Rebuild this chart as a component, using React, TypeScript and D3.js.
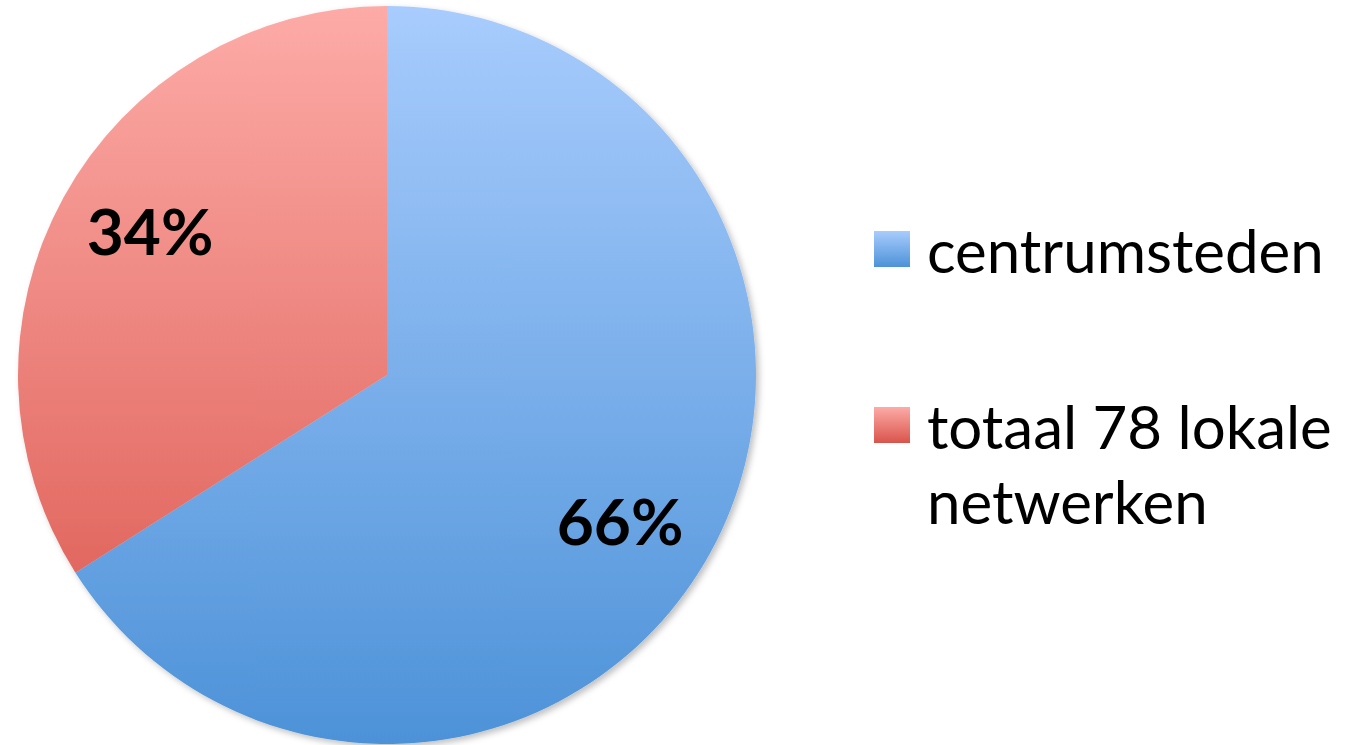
import { useEffect, useRef } from 'react'
import * as d3 from 'd3'

const categories = ['centrumsteden', 'totaal 78 lokale netwerken']
const legendLines = [['centrumsteden'], ['totaal 78 lokale', 'netwerken']]
const values = [66, 34]
const labels = ['66%', '34%']
const gradients = [
    ['#a8ccfd', '#4d92d8'],
    ['#fdaba7', '#d9544b'],
]

export default function App() {
    const svgRef = useRef<SVGSVGElement>(null)

    useEffect(() => {
        if (!svgRef.current) return
        const width = 1345
        const height = 745
        const cx = 387
        const cy = 375
        const r = 369

        const svg = d3.select(svgRef.current)
        svg.attr('width', width).attr('height', height)
        svg.selectAll('*').remove()

        const defs = svg.append('defs')
        gradients.forEach((g, i) => {
            // pie gradients run over the whole pie height (group coords)
            const lg = defs.append('linearGradient')
                .attr('id', `grad${i}`)
                .attr('gradientUnits', 'userSpaceOnUse')
                .attr('x1', 0).attr('y1', -r)
                .attr('x2', 0).attr('y2', r)
            lg.append('stop').attr('offset', '0%').attr('stop-color', g[0])
            lg.append('stop').attr('offset', '100%').attr('stop-color', g[1])
            const lgl = defs.append('linearGradient')
                .attr('id', `legGrad${i}`)
                .attr('x1', 0).attr('y1', 0).attr('x2', 0).attr('y2', 1)
            lgl.append('stop').attr('offset', '0%').attr('stop-color', g[0])
            lgl.append('stop').attr('offset', '100%').attr('stop-color', g[1])
        })
        const shadow = defs.append('filter').attr('id', 'shadow')
            .attr('x', '-10%').attr('y', '-10%').attr('width', '120%').attr('height', '120%')
        shadow.append('feDropShadow')
            .attr('dx', 3).attr('dy', 3).attr('stdDeviation', 3)
            .attr('flood-color', '#000').attr('flood-opacity', 0.25)

        const pie = d3.pie<number>().sort(null)
        const arcs = pie(values)
        const arc = d3.arc<d3.PieArcDatum<number>>().innerRadius(0).outerRadius(r)

        const g = svg.append('g').attr('transform', `translate(${cx},${cy})`)
        g.append('g').attr('filter', 'url(#shadow)')
            .selectAll('path')
            .data(arcs)
            .enter()
            .append('path')
            .attr('d', arc)
            .attr('fill', (d, i) => `url(#grad${i})`)

        const labelPos = [[620, 545], [150, 255]]
        g.selectAll('.lbl')
            .data(arcs)
            .enter()
            .append('text')
            .attr('class', 'lbl')
            .attr('x', (d, i) => labelPos[i][0] - cx)
            .attr('y', (d, i) => labelPos[i][1] - cy)
            .attr('text-anchor', 'middle')
            .attr('font-family', 'Lato, "Open Sans", sans-serif')
            .attr('font-weight', 'bold')
            .attr('font-size', 64)
            .attr('fill', '#000')
            .text((d, i) => labels[i])

        const legend = svg.append('g').attr('transform', 'translate(874,231)')
        const legendY = [0, 176]
        categories.forEach((c, i) => {
            const row = legend.append('g').attr('transform', `translate(0,${legendY[i]})`)
            row.append('rect')
                .attr('width', 36).attr('height', 36)
                .attr('fill', `url(#legGrad${i})`)
            legendLines[i].forEach((line, j) => {
                row.append('text')
                    .attr('x', 53)
                    .attr('y', 42 + j * 75)
                    .attr('font-family', 'Lato, "Open Sans", sans-serif')
                    .attr('font-size', 60)
                    .attr('fill', '#000')
                    .text(line)
            })
        })
    }, [])

    return <svg ref={svgRef} style={{ position: 'absolute', left: 0, top: 0 }} />
}
